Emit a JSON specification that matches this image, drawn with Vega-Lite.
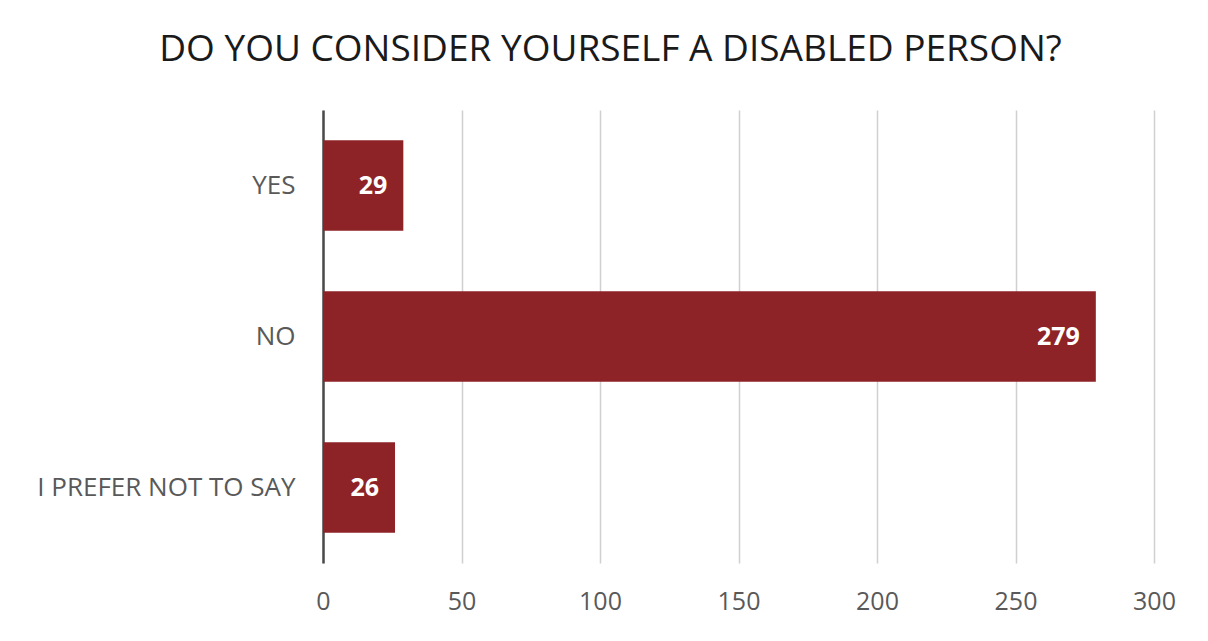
{
  "$schema": "https://vega.github.io/schema/vega-lite/v6.json",
  "width": 831,
  "height": 453,
  "autosize": {"type": "none"},
  "padding": {"left": 323, "top": 110, "right": 54, "bottom": 78},
  "background": "white",
  "title": {
    "text": "DO YOU CONSIDER YOURSELF A DISABLED PERSON?",
    "anchor": "middle",
    "frame": "group",
    "dx": -128,
    "offset": 41,
    "font": "Open Sans",
    "fontSize": 37,
    "fontWeight": "normal",
    "color": "#1a1a1a"
  },
  "data": {
    "values": [
      {"answer": "YES", "count": 29},
      {"answer": "NO", "count": 279},
      {"answer": "I PREFER NOT TO SAY", "count": 26}
    ]
  },
  "config": {
    "view": {"stroke": null},
    "font": "Open Sans"
  },
  "encoding": {
    "y": {
      "field": "answer",
      "type": "nominal",
      "sort": null,
      "title": null,
      "scale": {"paddingInner": 0.4, "paddingOuter": 0.2},
      "axis": {
        "ticks": false,
        "labelPadding": 28,
        "labelFontSize": 26,
        "labelLimit": 0,
        "labelColor": "#595959",
        "labelFont": "Open Sans",
        "domainColor": "#4a4a4a",
        "domainWidth": 2.5
      }
    },
    "x": {
      "field": "count",
      "type": "quantitative",
      "title": null,
      "scale": {"domain": [0, 300], "nice": false},
      "axis": {
        "values": [0, 50, 100, 150, 200, 250, 300],
        "ticks": false,
        "domain": false,
        "grid": true,
        "gridColor": "#d0d0d0",
        "gridWidth": 1.5,
        "labelPadding": 26,
        "labelFontSize": 25,
        "labelColor": "#595959",
        "labelFont": "Open Sans",
        "labelFlush": false
      }
    }
  },
  "layer": [
    {
      "mark": {"type": "bar", "color": "#8E2327"}
    },
    {
      "mark": {
        "type": "text",
        "align": "right",
        "baseline": "middle",
        "dx": -16,
        "color": "white",
        "fontWeight": "bold",
        "fontSize": 25,
        "font": "Open Sans"
      },
      "encoding": {"text": {"field": "count", "type": "quantitative"}}
    }
  ]
}
